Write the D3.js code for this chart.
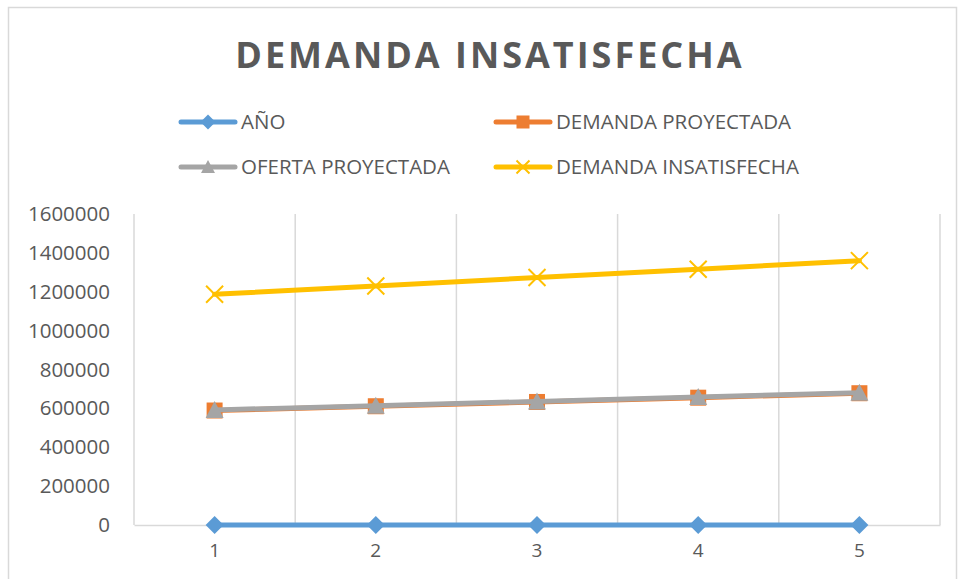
<!DOCTYPE html>
<html>
<head>
<meta charset="utf-8">
<script src="https://cdn.jsdelivr.net/npm/d3@7"></script>
<style>
  body { margin: 0; background: #fff; }
  text { font-family: "Open Sans", sans-serif; fill: #595959; }
</style>
</head>
<body>
<svg id="chart" width="958" height="579"></svg>
<script>
const years = [1, 2, 3, 4, 5];
const anio = [1, 2, 3, 4, 5];
const demandaProyectada = [589000, 611000, 633000, 655000, 678000];
const ofertaProyectada = [592000, 614000, 636000, 658000, 681000];
const demandaInsatisfecha = [1187000, 1230000, 1273000, 1316000, 1360000];
const yTicks = [0, 200000, 400000, 600000, 800000, 1000000, 1200000, 1400000, 1600000];

const seriesList = [
  { name: 'AÑO', values: anio, color: '#5B9BD5', marker: 'diamond' },
  { name: 'DEMANDA PROYECTADA', values: demandaProyectada, color: '#ED7D31', marker: 'square' },
  { name: 'OFERTA PROYECTADA', values: ofertaProyectada, color: '#A5A5A5', marker: 'triangle' },
  { name: 'DEMANDA INSATISFECHA', values: demandaInsatisfecha, color: '#FFC000', marker: 'cross' }
];

const width = 958;
const height = 579;
const margin = { top: 214, right: 18, bottom: 54, left: 134 };

const svg = d3.select('#chart');

// chart frame
svg.append('rect')
  .attr('x', 8.5).attr('y', 7.5)
  .attr('width', 948).attr('height', 600)
  .attr('fill', 'none').attr('stroke', '#D9D9D9').attr('stroke-width', 1.5);

const x = d3.scaleBand()
  .domain(years)
  .range([margin.left, width - margin.right])
  .padding(0);

const y = d3.scaleLinear()
  .domain([0, 1600000])
  .range([height - margin.bottom, margin.top]);

// vertical gridlines at category boundaries
const edges = years.map(d => x(d)).concat([x(years[years.length - 1]) + x.bandwidth()]);
svg.append('g')
  .selectAll('line')
  .data(edges)
  .enter()
  .append('line')
  .attr('x1', d => d).attr('x2', d => d)
  .attr('y1', y(1600000)).attr('y2', y(0))
  .attr('stroke', '#D9D9D9').attr('stroke-width', 1.5);

// x axis
const xAxis = svg.append('g')
  .attr('transform', `translate(0,${y(0)})`)
  .call(d3.axisBottom(x).tickSize(0).tickPadding(19));
xAxis.select('.domain').attr('stroke', '#D9D9D9').attr('stroke-width', 1.5);
xAxis.selectAll('text').style('font-size', '19px').style('font-family', '"Open Sans", sans-serif').attr('fill', '#595959');

// y axis
const yAxis = svg.append('g')
  .attr('transform', `translate(${margin.left - 24},0)`)
  .call(d3.axisLeft(y).tickValues(yTicks).tickSize(0).tickPadding(0).tickFormat(d3.format('d')));
yAxis.select('.domain').remove();
yAxis.selectAll('text').style('font-size', '20.5px').style('font-family', '"Open Sans", sans-serif').attr('fill', '#595959');

function drawMarker(g, type, color, size) {
  if (type === 'diamond') {
    g.append('path').attr('d', d3.symbol(d3.symbolSquare, size * size / 2)())
      .attr('transform', 'rotate(45)').attr('fill', color);
  } else if (type === 'square') {
    g.append('rect').attr('x', -size / 2).attr('y', -size / 2)
      .attr('width', size).attr('height', size).attr('fill', color);
  } else if (type === 'triangle') {
    g.append('path')
      .attr('d', `M0,${-size / 2 - 1}L${size / 2 + 1},${size / 2}L${-size / 2 - 1},${size / 2}Z`)
      .attr('fill', color);
  } else if (type === 'cross') {
    const h = size / 2;
    g.append('path').attr('d', `M${-h},${-h}L${h},${h}M${-h},${h}L${h},${-h}`)
      .attr('stroke', color).attr('stroke-width', 2).attr('fill', 'none');
  }
}

const line = d3.line()
  .x((d, i) => x(years[i]) + x.bandwidth() / 2)
  .y(d => y(d));

seriesList.forEach(s => {
  const g = svg.append('g');
  g.append('path')
    .datum(s.values)
    .attr('d', line)
    .attr('fill', 'none')
    .attr('stroke', s.color)
    .attr('stroke-width', 5)
    .attr('stroke-linecap', 'round');
  s.values.forEach((v, i) => {
    const m = g.append('g')
      .attr('transform', `translate(${x(years[i]) + x.bandwidth() / 2},${y(v)})`);
    const sz = { diamond: 18, square: 16, triangle: 16, cross: 17 }[s.marker];
    drawMarker(m, s.marker, s.color, sz);
  });
});

// title
svg.append('text')
  .attr('x', 490).attr('y', 68)
  .attr('text-anchor', 'middle')
  .style('font-size', '36px')
  .style('font-weight', 'bold')
  .style('letter-spacing', '3px')
  .text('DEMANDA INSATISFECHA');

// legend
const legendPos = [
  { lx: 181, ty: 122 },
  { lx: 496, ty: 122 },
  { lx: 181, ty: 167 },
  { lx: 496, ty: 167 }
];
const legend = svg.append('g')
  .selectAll('g')
  .data(seriesList)
  .enter()
  .append('g')
  .attr('transform', (d, i) => `translate(${legendPos[i].lx},${legendPos[i].ty})`);

legend.append('line')
  .attr('x1', 0).attr('x2', 54)
  .attr('stroke', d => d.color).attr('stroke-width', 5)
  .attr('stroke-linecap', 'round');
legend.each(function (d) {
  const m = d3.select(this).append('g').attr('transform', 'translate(27,0)');
  const sz = { diamond: 15, square: 13, triangle: 12, cross: 13 }[d.marker];
  drawMarker(m, d.marker, d.color, sz);
});
legend.append('text')
  .attr('x', 60).attr('y', 0)
  .attr('dy', '0.35em')
  .style('font-size', '20.5px')
  .text(d => d.name);
</script>
</body>
</html>
